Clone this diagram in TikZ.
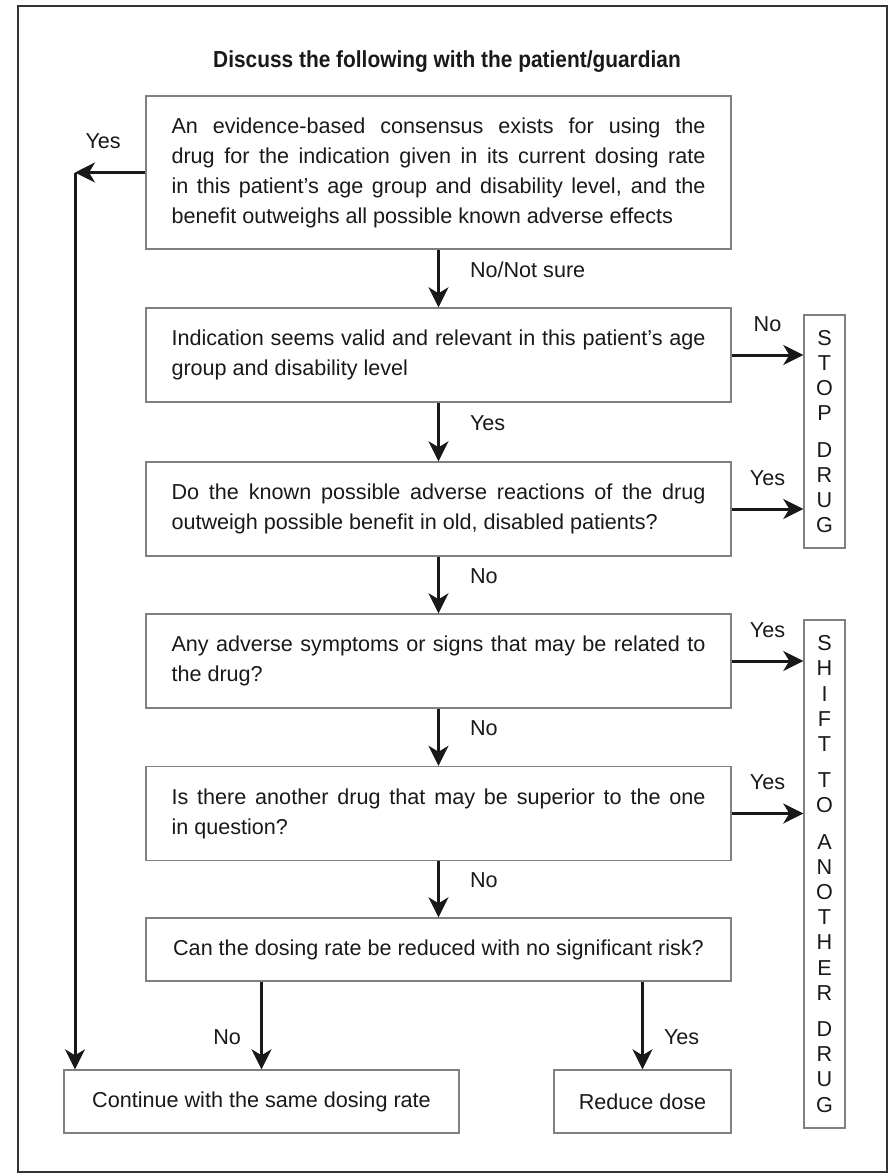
\documentclass[tikz,border=0pt]{standalone}
\usepackage{fontspec}
\setmainfont{Liberation Sans}
\newfontfamily\headfont{Liberation Sans}[FakeStretch=0.9]
\usetikzlibrary{arrows.meta}
\tikzset{>={Stealth[length=10pt,width=10pt,inset=3pt]}}
\tikzset{
  qbox/.style={draw=black!50,line width=0.7pt,text=black!90,text width=267pt,inner xsep=12.75pt,inner ysep=0pt,minimum height=47pt,align=justify,font=\fontsize{10.8}{15}\selectfont},
  endbox/.style={draw=black!50,line width=0.7pt,text=black!90,inner sep=0pt,minimum height=31.5pt,font=\fontsize{10.8}{15}\selectfont},
  sidebox/.style={draw=black!50,line width=0.7pt,text=black!90,inner sep=0pt,minimum width=20.5pt,align=center,font=\fontsize{10.8}{12.55}\selectfont},
  flow/.style={->,line width=1.5pt,black!90},
  lbl/.style={text=black!90,inner sep=0pt,text height=7.7pt,text depth=0pt,font=\fontsize{10.8}{13}\selectfont}}

\begin{document}
\begin{tikzpicture}[x=0.5pt,y=-0.5pt]
\useasboundingbox (0,0) rectangle (891,1175);
\draw[black!80,line width=0.8pt] (18,6) rectangle (887,1172);
\node[text=black!90,font=\headfont\bfseries\fontsize{11.6}{14}\selectfont] (head) at (447,62) {Discuss the following with the patient/guardian};
\node[qbox,minimum height=76.5pt] (q1) at (438.5,172.5) {An evidence-based consensus exists for using the\linebreak drug for the indication given in its current dosing rate\linebreak in this patient's age group and disability level, and the\linebreak benefit outweighs all possible known adverse effects};
\node[qbox] (q2) at (438.5,355) {Indication seems valid and relevant in this patient's age\linebreak group and disability level};
\node[qbox] (q3) at (438.5,509) {Do the known possible adverse reactions of the drug\linebreak outweigh possible benefit in old, disabled patients?};
\node[qbox] (q4) at (438.5,661) {Any adverse symptoms or signs that may be related to\linebreak the drug?};
\node[qbox] (q5) at (438.5,813.5) {Is there another drug that may be superior to the one\linebreak in question?};
\node[endbox,minimum width=292.5pt] (q6) at (438.5,949.5) {Can the dosing rate be reduced with no significant risk?};
\node[endbox,minimum width=197.5pt] (cont) at (261.5,1101.5) {Continue with the same dosing rate};
\node[endbox,minimum width=88.5pt] (reduce) at (642.5,1101.5) {Reduce dose};
\node[sidebox,minimum height=116.5pt] (stop) at (824.5,431.5) {S\\T\\O\\P\\[5.75pt]D\\R\\U\\G};
\node[sidebox,minimum height=254pt] (shift) at (824.5,874) {S\\H\\I\\F\\T\\[5.75pt]T\\O\\[5.75pt]A\\N\\O\\T\\H\\E\\R\\[5.75pt]D\\R\\U\\G};
\coordinate (turn) at (75,172.5);
\draw[flow] (q1.west) -- node[lbl,pos=0.6,above=11.2pt]{Yes} (turn);
\draw[flow] (turn) -- (turn |- cont.north);
\draw[flow] (q1.south) -- node[lbl,anchor=west,xshift=15pt,yshift=4.5pt]{No/Not sure} (q2.north);
\draw[flow] (q2.south) -- node[lbl,anchor=west,xshift=15pt,yshift=4.5pt]{Yes} (q3.north);
\draw[flow] (q3.south) -- node[lbl,anchor=west,xshift=15pt,yshift=4.5pt]{No} (q4.north);
\draw[flow] (q4.south) -- node[lbl,anchor=west,xshift=15pt,yshift=4.5pt]{No} (q5.north);
\draw[flow] (q5.south) -- node[lbl,anchor=west,xshift=15pt,yshift=4.5pt]{No} (q6.north);
\foreach \q/\t/\r in {q2/No/stop,q3/Yes/stop,q4/Yes/shift,q5/Yes/shift}
  \draw[flow] (\q.east) -- node[lbl,above=11.2pt]{\t} (\q.east -| \r.west);
\draw[flow] (q6.south -| cont.north) -- node[lbl,pos=0.63,anchor=east,xshift=-9.5pt]{No} (cont.north);
\draw[flow] (q6.south -| reduce.north) -- node[lbl,pos=0.63,anchor=west,xshift=10pt]{Yes} (reduce.north);
\end{tikzpicture}
\end{document}
